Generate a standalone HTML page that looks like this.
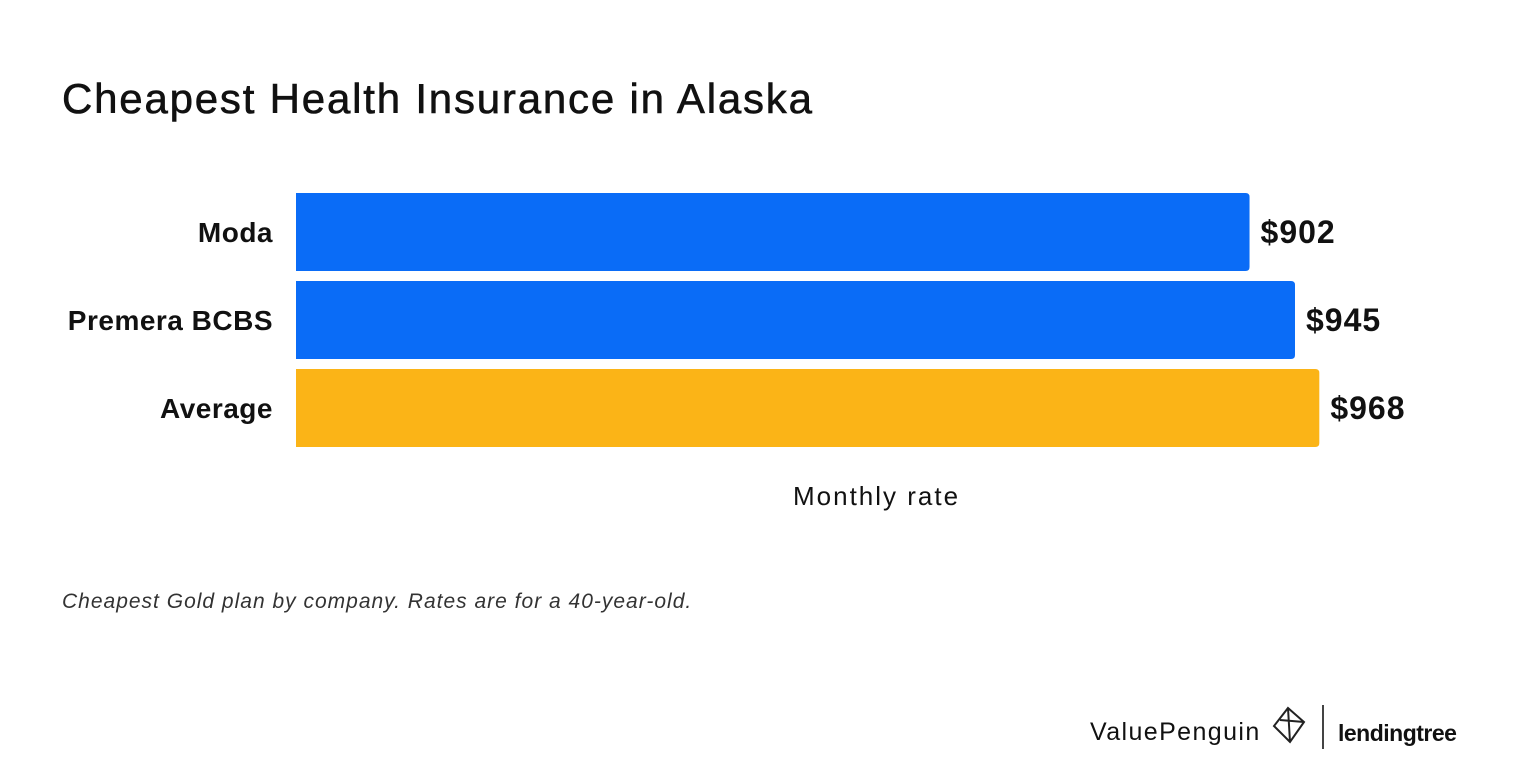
<!DOCTYPE html>
<html><head><meta charset="utf-8"><style>
body{margin:0;width:1520px;height:784px;background:#fff;font-family:"Liberation Sans",sans-serif;position:relative;overflow:hidden;color:#111}
.t{position:absolute;white-space:nowrap}
</style></head><body>
<div class="t" style="left:62px;top:75px;font-size:42px;letter-spacing:1.8px;-webkit-text-stroke:0.6px #111">Cheapest Health Insurance in Alaska</div>
<svg id="chart" width="1520" height="784" style="position:absolute;left:0;top:0"></svg>
<div class="t" style="left:793px;top:481px;font-size:26px;letter-spacing:2px">Monthly rate</div>
<div class="t" style="left:62px;top:590px;font-size:21px;font-style:italic;color:#333;letter-spacing:1px">Cheapest Gold plan by company. Rates are for a 40-year-old.</div>
<div class="t" style="left:1090px;top:718px;font-size:25px;letter-spacing:1.4px">ValuePenguin</div>
<svg width="40" height="44" style="position:absolute;left:1270px;top:704px"><path d="M18 4 L34 18 L20 38 L4 22 Z M10 16 L34 18 M18 4 L20 38" fill="none" stroke="#222" stroke-width="2"/></svg>
<div style="position:absolute;left:1322px;top:705px;width:2px;height:44px;background:#444"></div>
<div class="t" style="left:1338px;top:720px;font-size:23px;font-weight:bold;letter-spacing:-0.5px">lendingtree</div>
<script>
const categories=["Moda","Premera BCBS","Average"];
const values=[902,945,968];
const labels=["$902","$945","$968"];
const colors=["#0a6cf7","#0a6cf7","#fbb417"];
const svg=document.getElementById('chart');
const NS="http://www.w3.org/2000/svg";
const x0=296, k=(1295-296)/945;
const xScale=v=>x0+v*k;
const yScale=i=>193+i*88;
const bh=78;
categories.forEach((c,i)=>{
  const y=yScale(i), w=xScale(values[i])-x0;
  const r=document.createElementNS(NS,'path');
  
  
  r.setAttribute('d',`M${x0} ${y}H${x0+w-4}Q${x0+w} ${y} ${x0+w} ${y+4}V${y+bh-4}Q${x0+w} ${y+bh} ${x0+w-4} ${y+bh}H${x0}Z`);
  r.setAttribute('fill',colors[i]);svg.appendChild(r);
  const t=document.createElementNS(NS,'text');
  
  
  t.setAttribute('x',273);t.setAttribute('y',y+bh/2+10);t.setAttribute('text-anchor','end');
  t.setAttribute('font-size','28');t.setAttribute('font-weight','bold');t.setAttribute('letter-spacing','0.5');t.setAttribute('fill','#111');
  t.textContent=c;svg.appendChild(t);
  const v=document.createElementNS(NS,'text');
  
  
  v.setAttribute('x',x0+w+11);v.setAttribute('y',y+bh/2+11);
  v.setAttribute('font-size','32');v.setAttribute('font-weight','bold');v.setAttribute('letter-spacing','1');v.setAttribute('fill','#111');
  v.textContent=labels[i];svg.appendChild(v);
});
</script>
</body></html>
